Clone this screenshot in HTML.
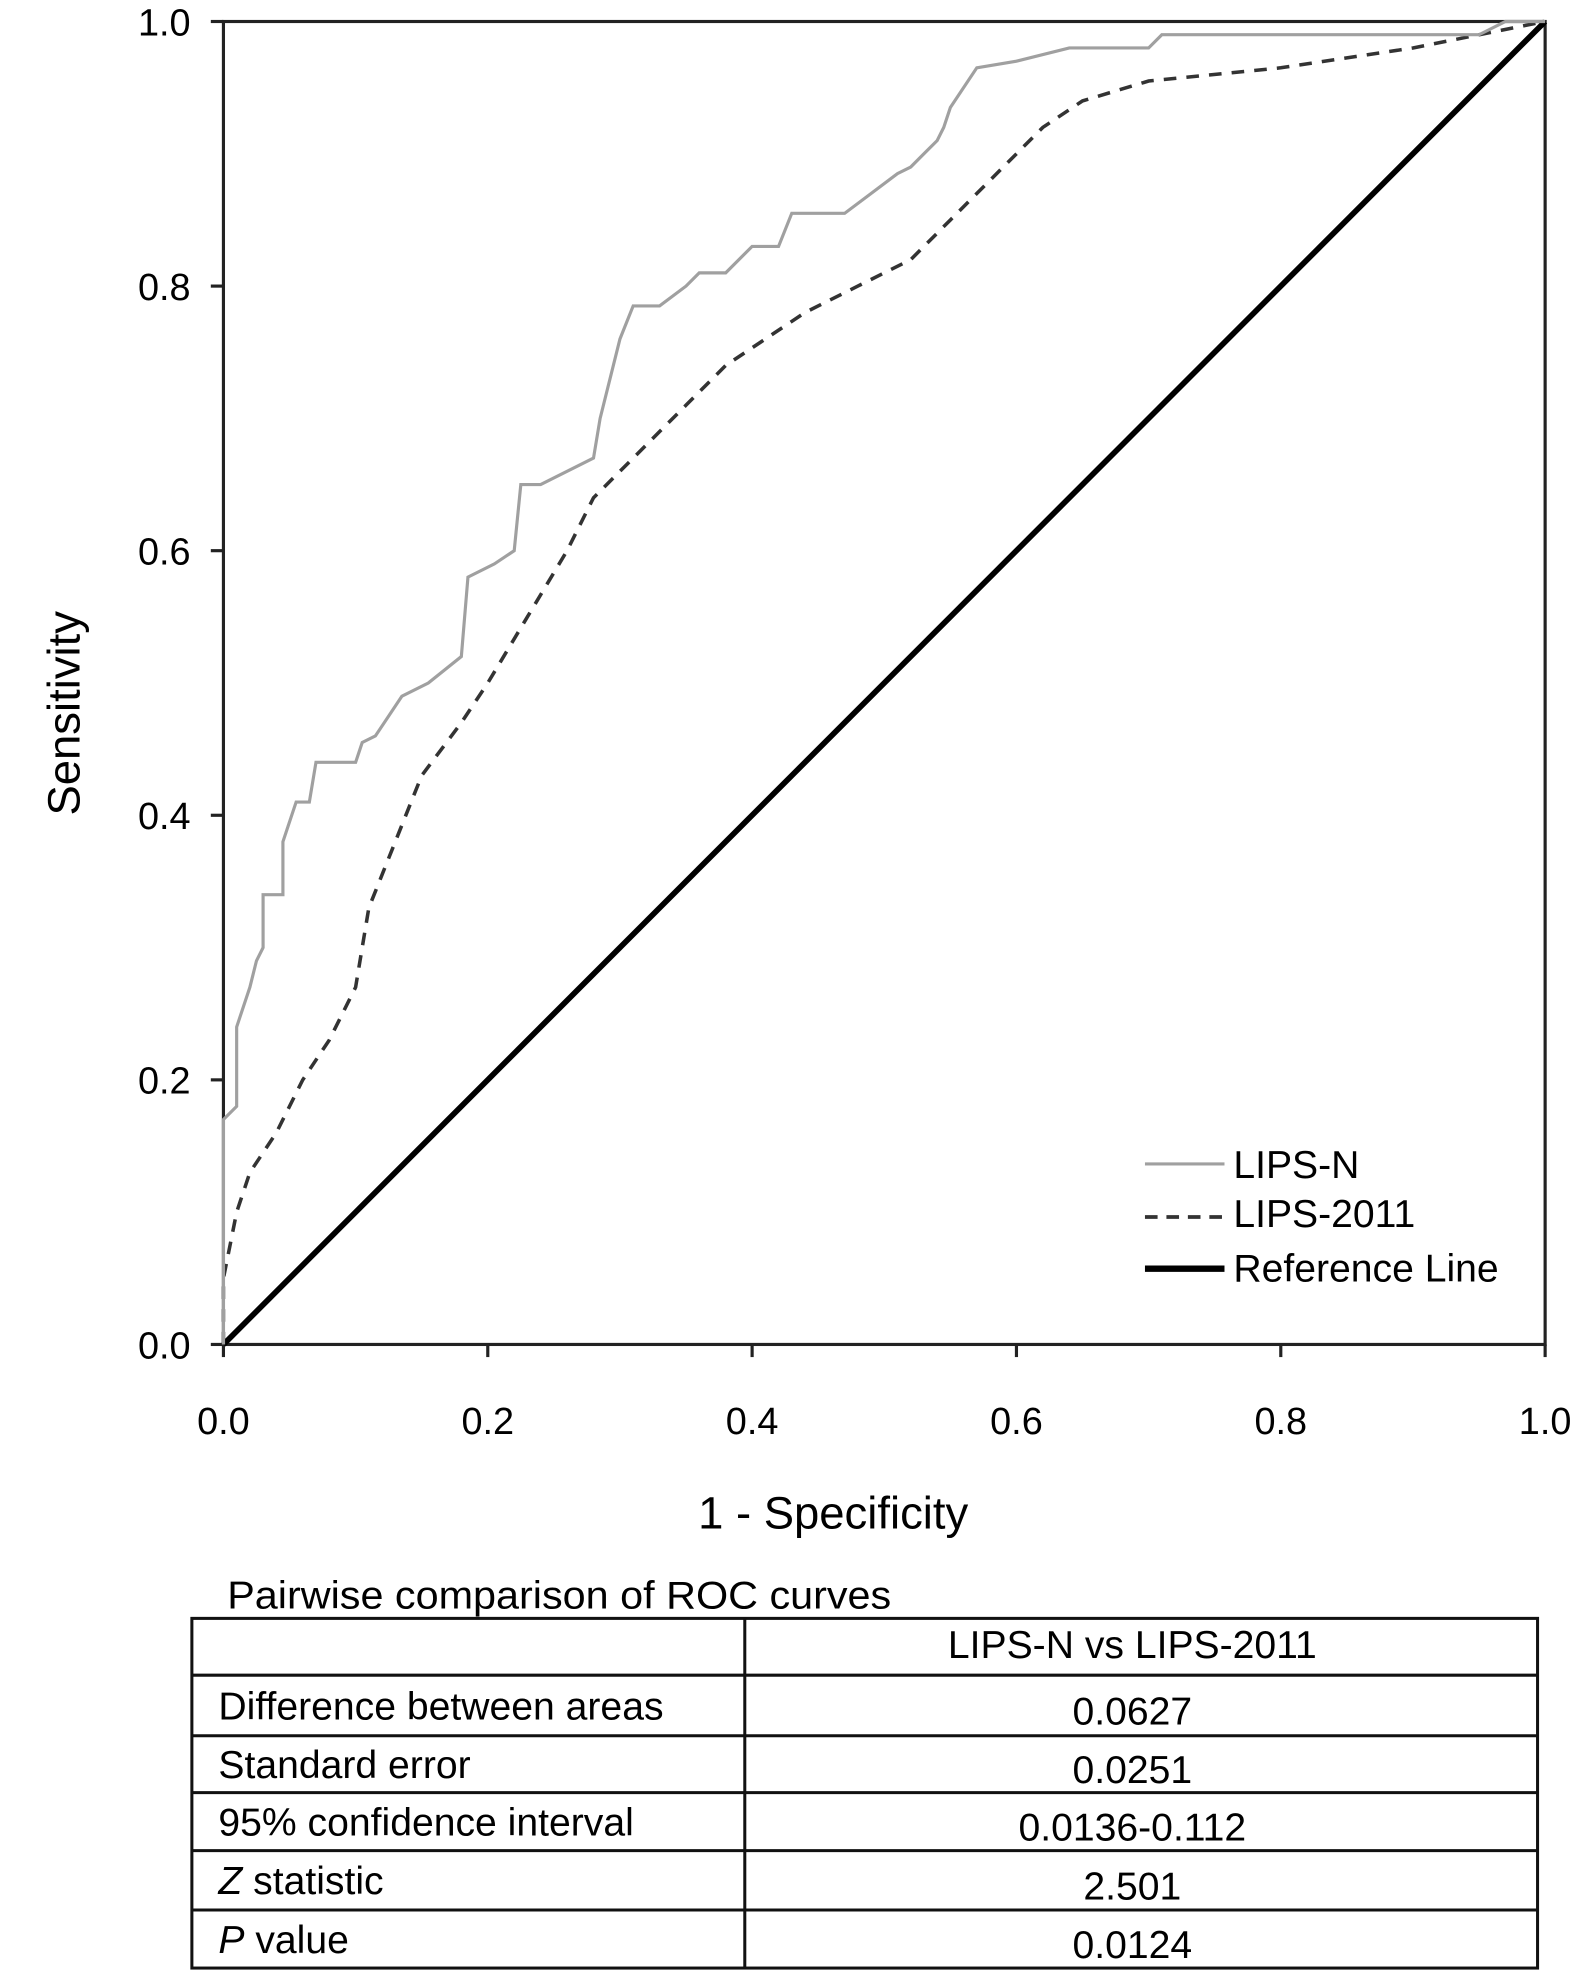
<!DOCTYPE html>
<html><head><meta charset="utf-8"><style>
html,body{margin:0;padding:0;background:#fff;}
svg{display:block;font-family:"Liberation Sans",Arial,sans-serif;}
</style></head><body>
<svg id="chart" width="1583" height="1983" viewBox="0 0 1254 1570.8" xmlns="http://www.w3.org/2000/svg">
<g id="plot"></g>
<g id="legend">
 <line x1="907" y1="922" x2="970" y2="922" stroke="#a0a0a0" stroke-width="2.5"/>
 <text x="977" y="933" font-size="31">LIPS-N</text>
 <line x1="907" y1="964" x2="970" y2="964" stroke="#333" stroke-width="3" stroke-dasharray="10,7"/>
 <text x="977" y="972" font-size="31">LIPS-2011</text>
 <line x1="907" y1="1005" x2="970" y2="1005" stroke="#000" stroke-width="5"/>
 <text x="977" y="1015" font-size="31">Reference Line</text>
</g>
<text x="660" y="1211" font-size="36" text-anchor="middle">1 - Specificity</text>
<text transform="translate(63,565) rotate(-90)" font-size="36" text-anchor="middle">Sensitivity</text>
<g id="table" font-size="31">
 <text x="180" y="1274" textLength="526" lengthAdjust="spacingAndGlyphs">Pairwise comparison of ROC curves</text>
</g>
</svg>
<script>
const lipsNFpr = [0,0,0.01,0.01,0.02,0.025,0.03,0.03,0.045,0.045,0.055,0.065,0.07,0.1,0.105,0.115,0.135,0.155,0.18,0.185,0.205,0.22,0.225,0.24,0.28,0.285,0.3,0.31,0.33,0.35,0.36,0.38,0.4,0.42,0.43,0.47,0.49,0.51,0.52,0.53,0.54,0.545,0.55,0.57,0.6,0.64,0.7,0.71,0.95,0.97,1];
const lipsNTpr = [0,0.17,0.18,0.24,0.27,0.29,0.30,0.34,0.34,0.38,0.41,0.41,0.44,0.44,0.455,0.46,0.49,0.50,0.52,0.58,0.59,0.60,0.65,0.65,0.67,0.70,0.76,0.785,0.785,0.80,0.81,0.81,0.83,0.83,0.855,0.855,0.87,0.885,0.89,0.90,0.91,0.92,0.935,0.965,0.97,0.98,0.98,0.99,0.99,1,1];
const lips2011Fpr = [0,0,0.01,0.02,0.04,0.06,0.08,0.1,0.11,0.13,0.15,0.18,0.2,0.23,0.26,0.28,0.31,0.35,0.38,0.41,0.44,0.48,0.52,0.55,0.58,0.62,0.65,0.7,0.8,0.9,1];
const lips2011Tpr = [0,0.05,0.1,0.13,0.16,0.2,0.23,0.27,0.33,0.38,0.43,0.47,0.5,0.55,0.6,0.64,0.67,0.71,0.74,0.76,0.78,0.8,0.82,0.85,0.88,0.92,0.94,0.955,0.965,0.98,1];
const tickValues = [0,0.2,0.4,0.6,0.8,1.0];
const tickLabels = ["0.0","0.2","0.4","0.6","0.8","1.0"];
const rowLabels = ["", "Difference between areas","Standard error","95% confidence interval","Z statistic","P value"];
const rowValues = ["LIPS-N vs LIPS-2011","0.0627","0.0251","0.0136-0.112","2.501","0.0124"];

const NS="http://www.w3.org/2000/svg";
const X0=177,X1=1224,Y0=1065,Y1=17;
const sx=v=>X0+v*(X1-X0), sy=v=>Y0-v*(Y0-Y1);
function mk(tag,attrs,parent){const e=document.createElementNS(NS,tag);for(const k in attrs)e.setAttribute(k,attrs[k]);parent.appendChild(e);return e;}
const plot=document.getElementById('plot');
let frame=mk('rect',{x:X0,y:Y1,width:X1-X0,height:Y0-Y1,fill:'none',stroke:'#222','stroke-width':2.5},plot);


tickValues.forEach((v,i)=>{
  let t=mk('line',{x1:X0-10,y1:sy(v),x2:X0,y2:sy(v),stroke:'#222','stroke-width':2.5},plot);
  
  
  let l=mk('text',{x:X0-26,y:sy(v)+11,'font-size':30,'text-anchor':'end'},plot);l.textContent=tickLabels[i];
  
  
  let t2=mk('line',{x1:sx(v),y1:Y0,x2:sx(v),y2:Y0+10,stroke:'#222','stroke-width':2.5},plot);
  
  
  let l2=mk('text',{x:sx(v),y:1136,'font-size':30,'text-anchor':'middle'},plot);l2.textContent=tickLabels[i];
  
  
});
function pts(xs,ys){return xs.map((x,i)=>sx(x)+','+sy(ys[i])).join(' ');}
let ref=mk('line',{x1:sx(0),y1:sy(0),x2:sx(1),y2:sy(1),stroke:'#000','stroke-width':4.5},plot);


let c2=mk('polyline',{points:pts(lips2011Fpr,lips2011Tpr),fill:'none',stroke:'#333','stroke-width':2.8,'stroke-dasharray':'10,8'},plot);


let c1=mk('polyline',{points:pts(lipsNFpr,lipsNTpr),fill:'none',stroke:'#a0a0a0','stroke-width':2.5},plot);



const tb=document.getElementById('table');
const TX0=152,TX1=1218,TC=590;
const rowY=[1282,1327,1375,1420,1466,1513,1559];
let box=mk('rect',{x:TX0,y:rowY[0],width:TX1-TX0,height:rowY[6]-rowY[0],fill:'none',stroke:'#111','stroke-width':2.4},tb);


let vl=mk('line',{x1:TC,y1:rowY[0],x2:TC,y2:rowY[6],stroke:'#111','stroke-width':2.4},tb);


for(let i=1;i<6;i++){
  let h=mk('line',{x1:TX0,y1:rowY[i],x2:TX1,y2:rowY[i],stroke:'#111','stroke-width':2.4},tb);
  
  
}
for(let i=0;i<6;i++){
  const mid=(rowY[i]+rowY[i+1])/2;
  let lab=mk('text',{x:173,y:mid+11},tb);
  
  
  const s=rowLabels[i];
  if(s.startsWith('Z ')||s.startsWith('P ')){
    let it=mk('tspan',{'font-style':'italic'},lab);it.textContent=s[0];
    let rest=mk('tspan',{},lab);rest.textContent=s.slice(1);
  } else lab.textContent=s;
  let val=mk('text',{x:897,y:mid+(i==0?9:15),'text-anchor':'middle'},tb);
  val.textContent=rowValues[i];
  
  
}
</script>
</body></html>
